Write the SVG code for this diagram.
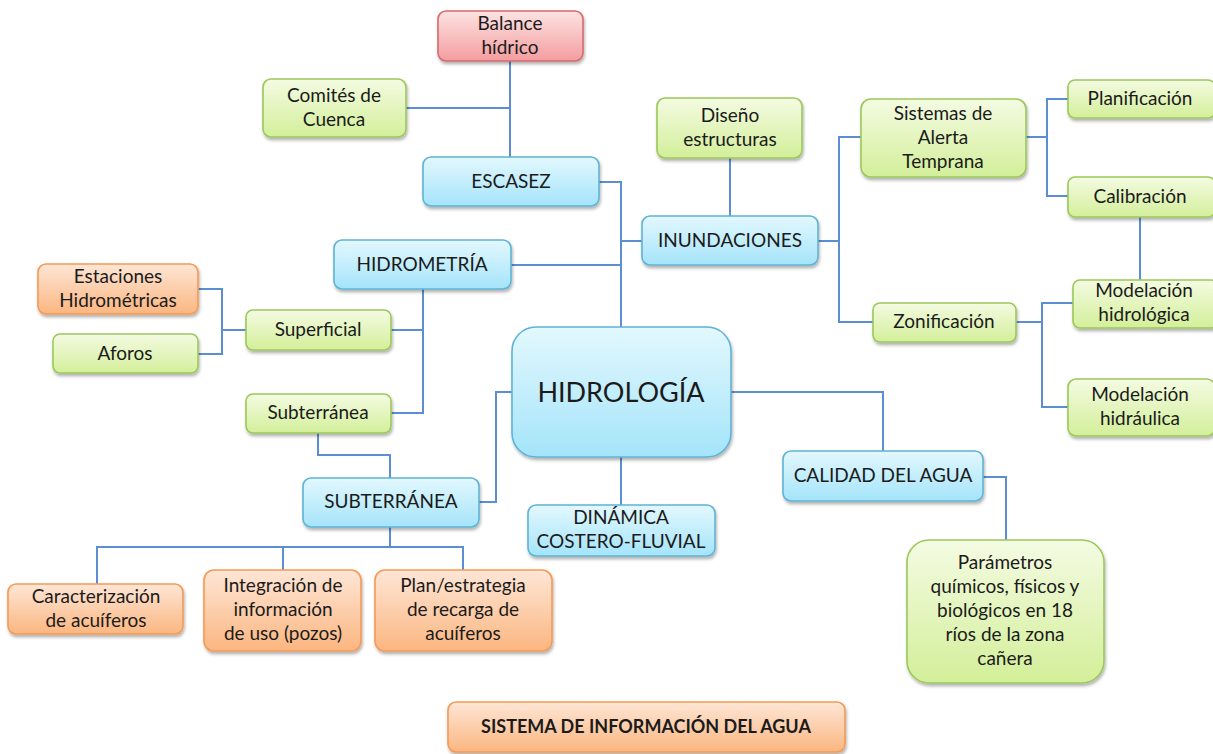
<svg xmlns="http://www.w3.org/2000/svg" width="1213" height="754" viewBox="0 0 1213 754">
<defs>
<linearGradient id="gB" x1="0" y1="0" x2="0" y2="1"><stop offset="0" stop-color="#e3f8fe"/><stop offset="1" stop-color="#a4e4fa"/></linearGradient>
<linearGradient id="gG" x1="0" y1="0" x2="0" y2="1"><stop offset="0" stop-color="#f4fbe2"/><stop offset="1" stop-color="#d3ef9a"/></linearGradient>
<linearGradient id="gO" x1="0" y1="0" x2="0" y2="1"><stop offset="0" stop-color="#fee6d6"/><stop offset="1" stop-color="#fbb680"/></linearGradient>
<linearGradient id="gR" x1="0" y1="0" x2="0" y2="1"><stop offset="0" stop-color="#fde3e3"/><stop offset="1" stop-color="#f39d9f"/></linearGradient>
<filter id="sh" x="-10%" y="-10%" width="120%" height="130%"><feDropShadow dx="1" dy="2.5" stdDeviation="1.8" flood-color="#000" flood-opacity="0.3"/></filter>
</defs>
<style>
rect{filter:url(#sh);stroke-width:1.6}
.b{fill:url(#gB);stroke:#5fb3d4}
.g{fill:url(#gG);stroke:#9cc85a}
.o{fill:url(#gO);stroke:#f59a55}
.r{fill:url(#gR);stroke:#d86a6c}
text{font-family:Lato,"Open Sans","Liberation Sans",sans-serif;font-size:19px;fill:#1b1b1b;text-anchor:middle}
.big{font-size:27px}
.bold{font-weight:bold;font-size:18px}
#connectors path{fill:none;stroke:#5b8fd1;stroke-width:2}
</style>
<rect width="1213" height="754" fill="#fff" style="filter:none"/>
<g id="connectors">
<path d="M510 61V157"/>
<path d="M406 108H510"/>
<path d="M599 182H621V327"/>
<path d="M621 241H642"/>
<path d="M511 265H621"/>
<path d="M730 158V216"/>
<path d="M818 241H839"/>
<path d="M861 137H839V322H873"/>
<path d="M1026 137H1047"/>
<path d="M1068 99H1047V196H1068"/>
<path d="M1140 217V280"/>
<path d="M1016 322H1042"/>
<path d="M1073 303H1042V407H1068"/>
<path d="M198 289H222V354H198"/>
<path d="M246 330H222"/>
<path d="M391 330H423"/>
<path d="M423 289V413H391"/>
<path d="M318 433V455H390V478"/>
<path d="M479 502H496V392H512"/>
<path d="M390 527V547"/>
<path d="M97 584V547H463V570"/>
<path d="M283 547V570"/>
<path d="M731 392H883V451"/>
<path d="M983 477H1006V540"/>
<path d="M621 457V505"/>
</g>
<g id="balance"><rect class="r" x="438" y="11" width="145" height="50" rx="8"/><text x="510" y="30">Balance</text><text x="510" y="54">hídrico</text></g>
<g id="comites"><rect class="g" x="263" y="79" width="143" height="58" rx="8"/><text x="334" y="102">Comités de</text><text x="334" y="126">Cuenca</text></g>
<g id="escasez"><rect class="b" x="423" y="157" width="176" height="49" rx="8"/><text x="511" y="188">ESCASEZ</text></g>
<g id="hidrometria"><rect class="b" x="334" y="240" width="177" height="49" rx="8"/><text x="422" y="271">HIDROMETRÍA</text></g>
<g id="diseno"><rect class="g" x="657" y="98" width="145" height="60" rx="8"/><text x="730" y="122">Diseño</text><text x="730" y="146">estructuras</text></g>
<g id="inundaciones"><rect class="b" x="642" y="216" width="176" height="49" rx="8"/><text x="730" y="247">INUNDACIONES</text></g>
<g id="sistemas"><rect class="g" x="861" y="99" width="165" height="78" rx="10"/><text x="943" y="120">Sistemas de</text><text x="943" y="144">Alerta</text><text x="943" y="168">Temprana</text></g>
<g id="planificacion"><rect class="g" x="1068" y="80" width="147" height="38" rx="7"/><text x="1140" y="105">Planificación</text></g>
<g id="calibracion"><rect class="g" x="1068" y="177" width="147" height="40" rx="7"/><text x="1140" y="203">Calibración</text></g>
<g id="mod-hidrologica"><rect class="g" x="1073" y="280" width="145" height="48" rx="7"/><text x="1144" y="297">Modelación</text><text x="1144" y="321">hidrológica</text></g>
<g id="zonificacion"><rect class="g" x="873" y="303" width="143" height="39" rx="7"/><text x="944" y="328">Zonificación</text></g>
<g id="mod-hidraulica"><rect class="g" x="1068" y="379" width="147" height="57" rx="8"/><text x="1140" y="401">Modelación</text><text x="1140" y="425">hidráulica</text></g>
<g id="estaciones"><rect class="o" x="38" y="264" width="160" height="50" rx="8"/><text x="118" y="283">Estaciones</text><text x="118" y="307">Hidrométricas</text></g>
<g id="aforos"><rect class="g" x="53" y="334" width="145" height="39" rx="7"/><text x="125" y="360">Aforos</text></g>
<g id="superficial"><rect class="g" x="246" y="310" width="145" height="40" rx="7"/><text x="318" y="336">Superficial</text></g>
<g id="subterranea-g"><rect class="g" x="246" y="394" width="145" height="39" rx="7"/><text x="318" y="419">Subterránea</text></g>
<g id="hidrologia"><rect class="b" x="512" y="327" width="219" height="130" rx="24"/><text class="big" x="621" y="402">HIDROLOGÍA</text></g>
<g id="subterranea"><rect class="b" x="303" y="478" width="176" height="49" rx="8"/><text x="391" y="508">SUBTERRÁNEA</text></g>
<g id="dinamica"><rect class="b" x="528" y="505" width="187" height="51" rx="8"/><text x="621" y="524">DINÁMICA</text><text x="621" y="548">COSTERO-FLUVIAL</text></g>
<g id="calidad"><rect class="b" x="783" y="451" width="200" height="50" rx="8"/><text x="883" y="482">CALIDAD DEL AGUA</text></g>
<g id="parametros"><rect class="g" x="907" y="540" width="197" height="143" rx="22"/><text x="1005" y="569">Parámetros</text><text x="1005" y="593">químicos, físicos y</text><text x="1005" y="617">biológicos en 18</text><text x="1005" y="641">ríos de la zona</text><text x="1005" y="665">cañera</text></g>
<g id="caracterizacion"><rect class="o" x="8" y="584" width="175" height="50" rx="8"/><text x="96" y="603">Caracterización</text><text x="96" y="627">de acuíferos</text></g>
<g id="integracion"><rect class="o" x="204" y="570" width="157" height="81" rx="10"/><text x="283" y="592">Integración de</text><text x="283" y="616">información</text><text x="283" y="640">de uso (pozos)</text></g>
<g id="plan"><rect class="o" x="375" y="570" width="177" height="81" rx="10"/><text x="463" y="592">Plan/estrategia</text><text x="463" y="616">de recarga de</text><text x="463" y="640">acuíferos</text></g>
<g id="sistema-info"><rect class="o" x="448" y="702" width="397" height="50" rx="8"/><text class="bold" x="646" y="733">SISTEMA DE INFORMACIÓN DEL AGUA</text></g>
</svg>
